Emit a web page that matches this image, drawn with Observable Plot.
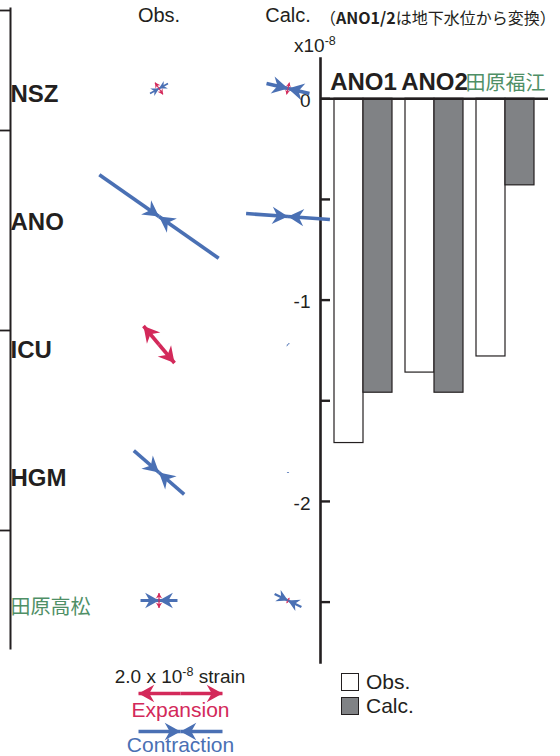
<!DOCTYPE html>
<html><head><meta charset="utf-8">
<script src="https://cdn.jsdelivr.net/npm/d3@7"></script>
<script src="https://cdn.jsdelivr.net/npm/@observablehq/plot@0.6"></script>
<style>
body{margin:0;background:#fff;}
#root{position:relative;width:560px;height:756px;overflow:hidden;font-family:"Liberation Sans",Arial,sans-serif;color:#231f20;}
.abs{position:absolute;line-height:1;white-space:nowrap;}
.abs svg{overflow:visible;}
sup{font-size:0.66em;vertical-align:0.55em;line-height:0;}
.sw{position:absolute;width:16px;height:16px;border:1px solid #231f20;}
</style></head><body><div id="root"></div>
<script>
// ---- strain glyph data (x10^-8, + expansion / - contraction, azimuth deg from N clockwise)
const stations = ["NSZ","ANO","ICU","HGM","田原高松"];
const columns = ["Obs.","Calc."];
const glyphStation = ["NSZ","NSZ","NSZ","NSZ","ANO","ANO","ICU","ICU","HGM","HGM","田原高松","田原高松","田原高松","田原高松"];
const glyphColumn  = ["Obs.","Obs.","Calc.","Calc.","Obs.","Calc.","Obs.","Calc.","Obs.","Calc.","Obs.","Obs.","Calc.","Calc."];
const glyphStrain  = [0.34,-0.49,-1.05,0.29,-3.47,-2.0,1.15,-0.10,-1.59,-0.05,-0.88,0.36,-0.71,0.14];
const glyphAzimuth = [146,61,103,13,125,94,140,45,131,90,90,0,116,26];

// ---- legend
const legendLabels = ["Expansion","Contraction"];
const legendStrain = [2.0,-2.0];
const legendAzimuth = [90,90];

// ---- areal strain bars (x10^-8)
const sites = ["ANO1","ANO2","田原福江"];
const obsValues  = [-1.71,-1.36,-1.28];
const calcValues = [-1.46,-1.46,-0.43];
const yTickValues = [0,-0.5,-1,-1.5,-2,-2.5];
const yTickLabels = [0,-1,-2];

// ---- map frame remnant ticks (latitude)
const frameTicks = [35.06,35.0,34.9,34.8];

const RED = "#d3295a", BLUE = "#4a70b4", INK = "#231f20", GREEN = "#4f8f66", GRAY = "#808285";
const LATIN = "Liberation Sans, Arial, sans-serif", CJK = "Noto Sans CJK JP, sans-serif";

// split each principal strain into two half-arrows; keep tip point and head direction
function halves(rows) {
  const out = [];
  for (const r of rows) {
    const h = Math.abs(r.strain) / 2, a = r.az * Math.PI / 180;
    for (const s of [1, -1]) {
      const ex = s * h * Math.sin(a), ey = s * h * Math.cos(a);
      const dirOut = Math.atan2(ex, ey) * 180 / Math.PI;
      out.push(r.strain > 0
        ? {...r, x1: 0, y1: 0, x2: ex, y2: ey, tx: ex, ty: ey, dir: dirOut}
        : {...r, x1: ex, y1: ey, x2: 0, y2: 0, tx: 0, ty: 0, dir: dirOut + 180});
    }
  }
  return out;
}
// barbed arrowhead symbol, tip at origin pointing up
const headSymbol = {
  draw(ctx, size) {
    const r = Math.sqrt(size / Math.PI);
    ctx.moveTo(0, 0);
    ctx.lineTo(1.05 * r, 1.9 * r);
    ctx.lineTo(0, 1.3 * r);
    ctx.lineTo(-1.05 * r, 1.9 * r);
    ctx.closePath();
  }
};
const rScale = {type: "linear", domain: [0, 1], range: [0, 8.3], clamp: true};

const glyphRows = glyphStrain.map((v, i) => ({station: glyphStation[i], col: glyphColumn[i], strain: v, az: glyphAzimuth[i]}));
const glyphHalves = halves(glyphRows);
const sw = d => Math.min(3.6, Math.max(0.7, Math.abs(d.strain) * 3.4));
const root = document.getElementById("root");
function place(node, left, top) {
  const wrap = document.createElement("div");
  wrap.className = "abs"; wrap.style.left = left + "px"; wrap.style.top = top + "px";
  wrap.appendChild(node); root.appendChild(wrap); return wrap;
}
const transparent = {background: "transparent", overflow: "visible"};

// ---- map frame
place(Plot.plot({
  width: 20, height: 660, marginLeft: 0, marginRight: 10, marginTop: 8, marginBottom: 12,
  style: transparent,
  x: {domain: [0, 1], axis: null},
  y: {domain: [34.741, 35.061], axis: null},
  marks: [
    Plot.ruleY(frameTicks, {stroke: INK, strokeWidth: 1.8}),
    Plot.frame({anchor: "right", stroke: INK, strokeWidth: 2})
  ]
}), 0, 0);

// ---- bar chart
const barRows = sites.flatMap((s, i) => [{site: s, type: "Obs.", value: obsValues[i]}, {site: s, type: "Calc.", value: calcValues[i]}]);
place(Plot.plot({
  width: 280, height: 670, marginLeft: 40, marginRight: 12, marginTop: 58, marginBottom: 8,
  style: transparent,
  x: {domain: sites, paddingInner: 0.183, paddingOuter: 0.197, axis: null},
  y: {domain: [-2.8, 0.2], axis: null},
  marks: [
    Plot.barY(barRows.filter(d => d.type === "Obs."), {x: "site", y: "value", insetRight: 29, fill: "#fff", stroke: INK, strokeWidth: 1.2}),
    Plot.barY(barRows.filter(d => d.type === "Calc."), {x: "site", y: "value", insetLeft: 29, fill: GRAY, stroke: INK, strokeWidth: 1.2}),
    Plot.ruleY([0], {stroke: INK, strokeWidth: 2.4}),
    Plot.ruleY(yTickValues, {insetRight: 218, stroke: INK, strokeWidth: 2.4}),
    Plot.axisY(yTickLabels, {tickSize: 0, tickPadding: 10, fontSize: 19, dy: 2, tickFormat: d => String(d), label: null, fill: INK, fontFamily: LATIN}),
    Plot.frame({anchor: "left", stroke: INK, strokeWidth: 2.6}),
    Plot.text(["ANO1", "ANO2"], {x: d => d, y: () => 0, text: d => d, dy: -16, fontSize: 24, fontWeight: "bold", fill: INK, fontFamily: LATIN}),
    Plot.text(["田原福江"], {x: d => d, y: () => 0, text: d => d, dy: -15, fontSize: 20, fill: GREEN, fontFamily: CJK})
  ]
}), 280, 0);

// ---- strain glyphs
const glyphMarks = (rows, color) => [
  Plot.link(rows, {fx: "col", fy: "station", x1: "x1", y1: "y1", x2: "x2", y2: "y2", stroke: color, strokeWidth: sw}),
  Plot.dot(rows, {fx: "col", fy: "station", x: "tx", y: "ty", rotate: "dir", r: d => Math.abs(d.strain), symbol: headSymbol, fill: color, stroke: "none"})
];
place(Plot.plot({
  width: 352, height: 664, marginLeft: 94, marginRight: 0, marginTop: 24, marginBottom: 0,
  style: transparent,
  fx: {domain: columns, padding: 0, label: null},
  fy: {domain: stations, padding: 0, axis: null, label: null},
  x: {domain: [-1.536, 1.536], axis: null},
  y: {domain: [-1.524, 1.524], axis: null},
  r: rScale,
  marks: [
    Plot.axisFx({anchor: "top", tickSize: 0, tickPadding: 3, fontSize: 20, label: null, fill: INK, fontFamily: LATIN}),
    ...glyphMarks(glyphHalves.filter(d => d.strain < 0), BLUE),
    ...glyphMarks(glyphHalves.filter(d => d.strain > 0), RED),
    Plot.text(stations.filter(s => /^[A-Z]/.test(s)), {fx: () => "Obs.", fy: d => d, text: d => d, frameAnchor: "left", dx: -84, dy: 6, fontSize: 24, fontWeight: "bold", fill: INK, fontFamily: LATIN}),
    Plot.text(stations.filter(s => !/^[A-Z]/.test(s)), {fx: () => "Obs.", fy: d => d, text: d => d, frameAnchor: "left", dx: -84, dy: 7, fontSize: 20, fill: GREEN, fontFamily: CJK})
  ]
}), 0, 0);

// ---- strain legend
const legendHalves = halves(legendStrain.map((v, i) => ({label: legendLabels[i], strain: v, az: legendAzimuth[i]})));
const legendMarks = (rows, color) => [
  Plot.link(rows, {x1: "x1", x2: "x2", y1: "label", y2: "label", stroke: color, strokeWidth: 3.6}),
  Plot.dot(rows, {x: "tx", y: "label", rotate: "dir", r: d => Math.abs(d.strain), symbol: headSymbol, fill: color, stroke: "none"})
];
place(Plot.plot({
  width: 160, height: 96, marginLeft: 0, marginRight: 0, marginTop: 33, marginBottom: 25,
  style: transparent,
  x: {domain: [-1.905, 1.905], axis: null},
  y: {type: "point", domain: legendLabels, padding: 0, axis: null},
  r: rScale,
  marks: [
    ...legendMarks(legendHalves.filter(d => d.strain > 0), RED),
    ...legendMarks(legendHalves.filter(d => d.strain < 0), BLUE),
    Plot.text(["Expansion"], {x: () => 0, y: d => d, text: d => d, dy: 16.5, fontSize: 21, fill: RED, fontFamily: LATIN}),
    Plot.text(["Contraction"], {x: () => 0, y: d => d, text: d => d, dy: 13.5, fontSize: 21, fill: BLUE, fontFamily: LATIN})
  ]
}), 100, 660);

// ---- HTML texts
function html(s, left, top, style) {
  const d = document.createElement("div");
  d.className = "abs"; d.innerHTML = s; d.style.left = left + "px"; d.style.top = top + "px";
  Object.assign(d.style, style || {}); root.appendChild(d); return d;
}
html('（<b>ANO1/2</b>は地下水位から変換）', 320, 9, {fontFamily: CJK, fontSize: "16px"});
html('x10<sup>-8</sup>', 294, 36, {fontSize: "19px"});
html('2.0 x 10<sup>-8</sup> strain', 80, 667, {fontSize: "19px", width: "200px", textAlign: "center"});
// bar legend
const sq1 = document.createElement("div"); sq1.className = "sw"; sq1.style.left = "341px"; sq1.style.top = "673px"; sq1.style.background = "#fff"; root.appendChild(sq1);
const sq2 = document.createElement("div"); sq2.className = "sw"; sq2.style.left = "341px"; sq2.style.top = "697px"; sq2.style.background = GRAY; root.appendChild(sq2);
html(columns[0], 366, 671, {fontSize: "21px"});
html(columns[1], 366, 695, {fontSize: "21px"});
</script>
</body></html>
